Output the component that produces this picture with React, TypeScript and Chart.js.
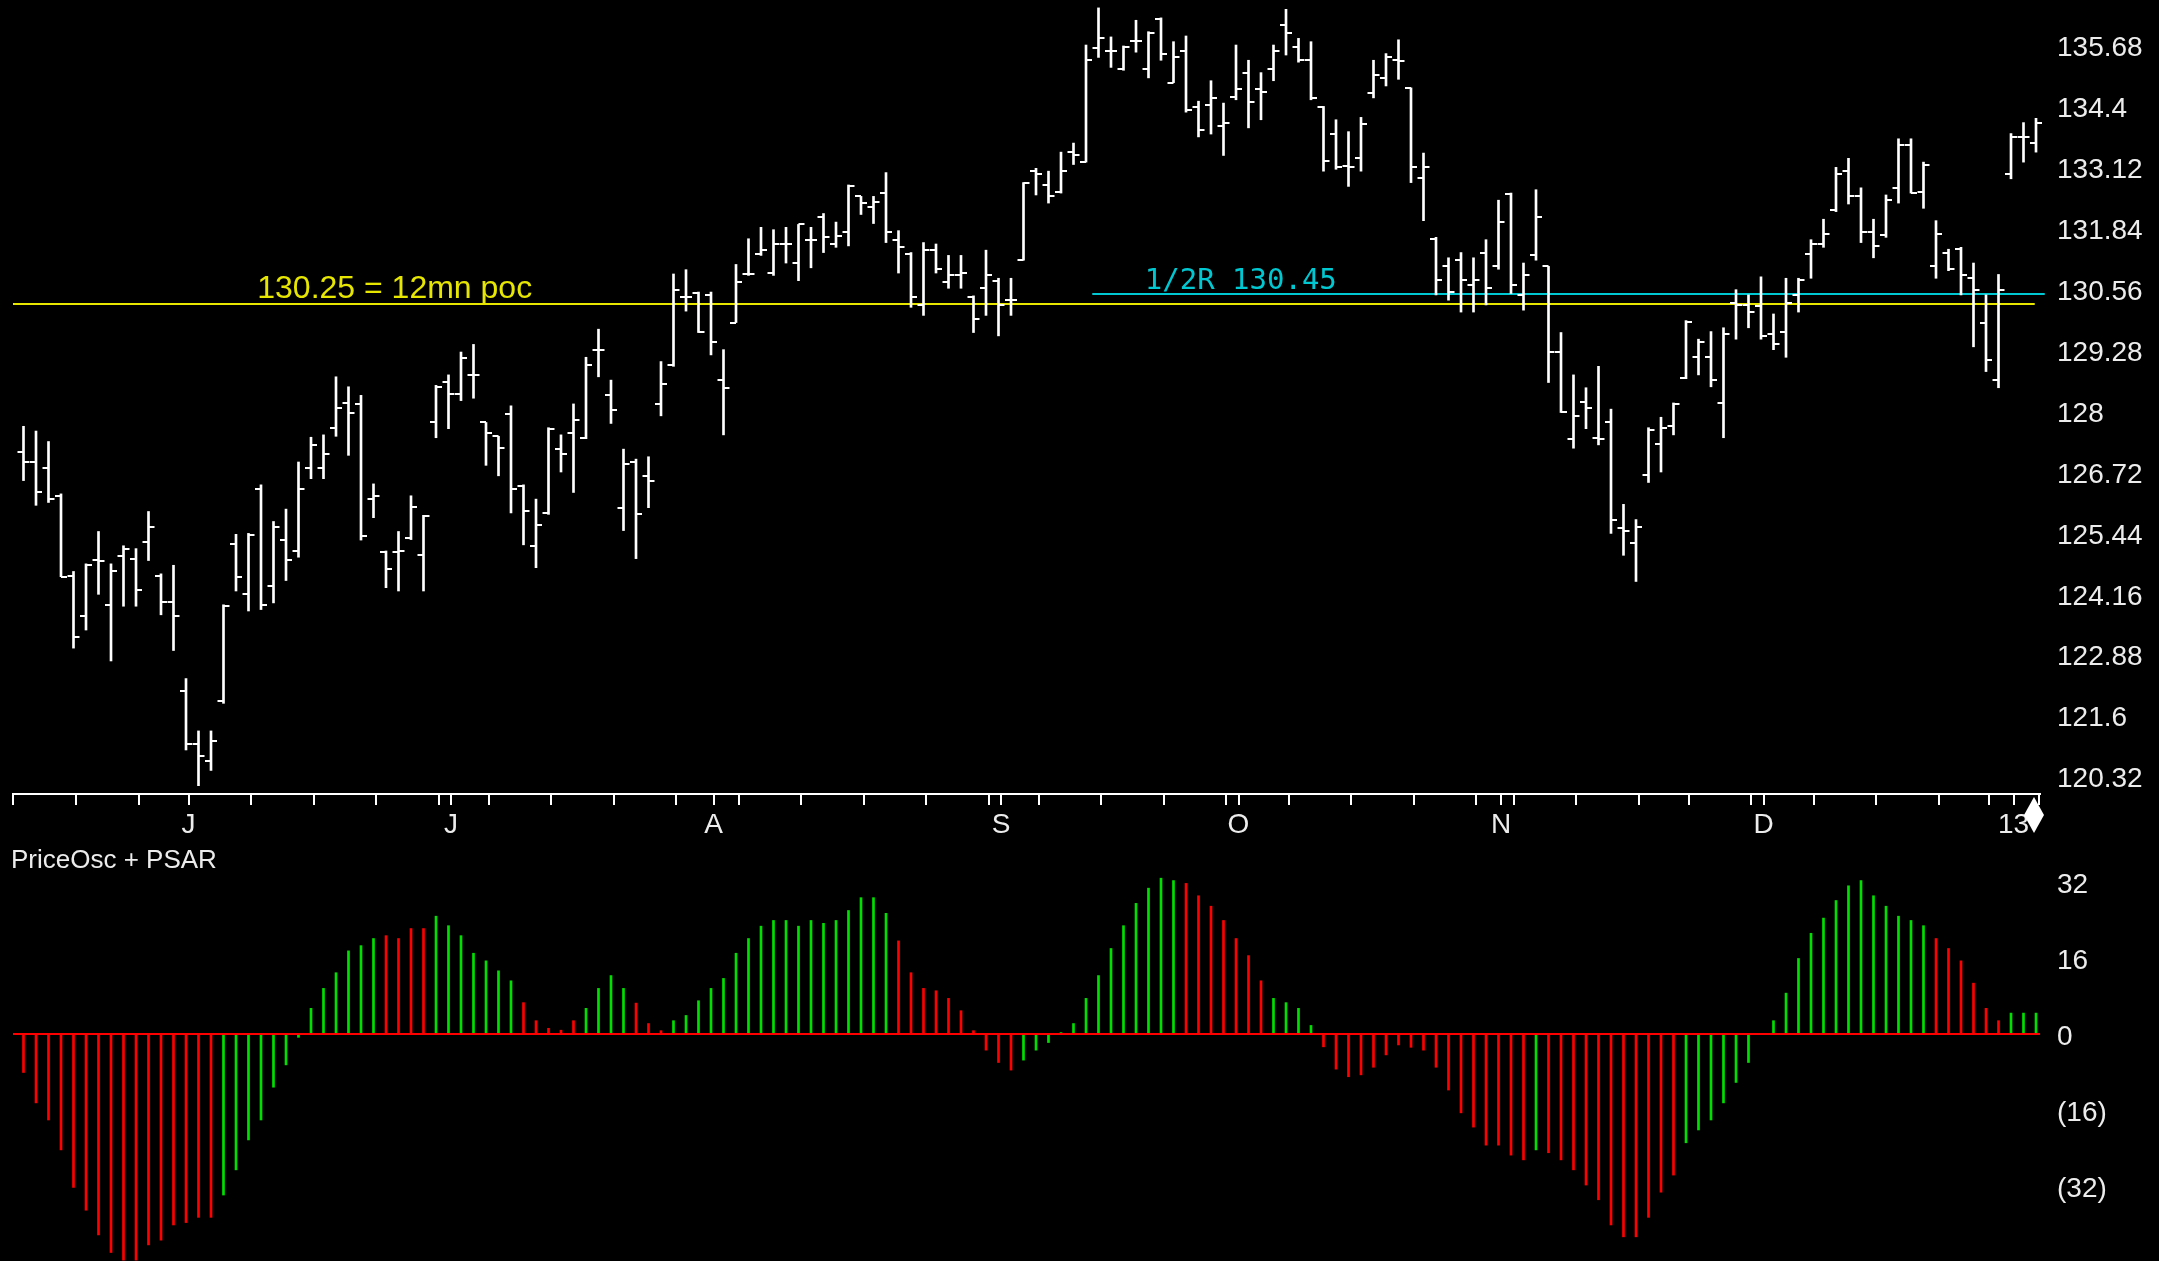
import React, { useEffect, useRef } from "react";
import { Chart, registerables } from "chart.js";

Chart.register(...registerables);

// ---------------- page geometry ----------------
const W = 2159;
const H = 1261;
const PRICE_H = 840;
const OSC_TOP = 840;
const OSC_H = H - OSC_TOP;

// ---------------- calendar (categories) ----------------
const START_DATE = "2012-05-14";
const HOLIDAYS = [
  "2012-05-28", "2012-07-04", "2012-09-03", "2012-10-29",
  "2012-10-30", "2012-11-22", "2012-12-25", "2013-01-01",
];
const MONTH_LETTERS = ["J", "F", "M", "A", "M", "J", "J", "A", "S", "O", "N", "D"];

// ---------------- price series (daily OHLC) ----------------
const opens = [
  127.15, 126.93, 126.80, 126.22, 124.54, 123.69, 124.87, 123.93, 124.95, 124.90,
  125.25, 124.54, 123.99, 122.11, 121.01, 120.64, 121.90, 125.20, 124.15, 126.37,
  124.33, 125.29, 125.06, 126.80, 126.80, 127.65, 128.17, 128.15, 126.15, 125.04,
  125.04, 125.33, 124.98, 127.76, 128.62, 128.35, 128.76, 127.76, 127.47, 127.93,
  126.43, 125.17, 125.86, 127.20, 127.54, 127.44, 129.29, 128.33, 125.97, 126.93,
  126.64, 128.14, 128.97, 130.40, 130.47, 130.44, 128.65, 129.86, 130.87, 131.30,
  130.90, 131.51, 131.11, 131.60, 132.08, 131.51, 131.76, 132.51, 132.29, 132.58,
  131.60, 131.30, 130.22, 131.38, 130.72, 130.85, 130.40, 130.58, 130.74, 130.33,
  131.17, 133.04, 132.75, 132.61, 133.44, 133.23, 135.62, 135.56, 135.19, 135.78,
  135.19, 136.23, 134.90, 135.56, 134.38, 134.44, 133.98, 134.60, 135.11, 134.76,
  135.19, 136.12, 135.65, 135.37, 134.38, 133.83, 133.15, 133.31, 134.68, 135.00,
  135.37, 134.79, 132.90, 131.62, 131.04, 131.17, 130.65, 131.33, 131.04, 132.56,
  130.44, 131.28, 131.04, 129.24, 127.42, 128.19, 127.44, 127.76, 125.54, 125.22,
  126.66, 127.31, 127.68, 128.70, 129.13, 129.13, 128.17, 130.26, 130.23, 130.20,
  129.62, 129.67, 130.44, 131.30, 131.51, 132.22, 133.04, 132.51, 131.76, 131.70,
  132.69, 133.58, 132.61, 131.04, 131.33, 131.40, 130.79, 129.86, 128.65, 132.99,
  133.76, 133.64,
];
const highs = [
  127.68, 127.58, 127.36, 126.26, 124.63, 124.79, 125.47, 124.79, 125.17, 125.11,
  125.89, 124.58, 124.76, 122.38, 121.28, 121.28, 123.93, 125.41, 125.43, 126.45,
  125.68, 125.94, 126.93, 127.45, 127.50, 128.72, 128.51, 128.33, 126.47, 125.06,
  125.47, 126.22, 125.81, 128.54, 128.76, 129.24, 129.40, 127.76, 127.47, 128.11,
  126.45, 126.15, 127.65, 127.50, 128.15, 129.13, 129.72, 128.65, 127.20, 126.99,
  127.04, 129.04, 130.88, 130.97, 130.50, 130.50, 129.29, 131.08, 131.62, 131.86,
  131.81, 131.86, 131.92, 131.86, 132.15, 131.97, 132.75, 132.51, 132.51, 133.01,
  131.79, 131.33, 131.54, 131.51, 131.27, 131.27, 130.42, 131.38, 130.79, 130.79,
  132.80, 133.10, 133.04, 133.44, 133.63, 135.69, 136.47, 135.86, 135.67, 136.21,
  135.97, 136.26, 135.76, 135.88, 134.51, 134.94, 134.47, 135.69, 135.37, 135.11,
  135.69, 136.44, 135.83, 135.76, 134.40, 134.12, 133.87, 134.17, 135.37, 135.51,
  135.80, 134.79, 133.42, 131.65, 131.22, 131.33, 131.22, 131.60, 132.43, 132.58,
  131.11, 132.65, 131.04, 129.65, 128.76, 128.49, 128.94, 128.04, 126.04, 125.72,
  127.65, 127.87, 128.17, 129.90, 129.51, 129.67, 129.75, 130.55, 130.44, 130.82,
  130.04, 130.79, 130.79, 131.60, 132.03, 133.12, 133.31, 132.69, 132.03, 132.54,
  133.72, 133.72, 133.23, 132.00, 131.40, 131.44, 131.11, 130.44, 130.87, 133.83,
  134.06, 134.15,
];
const lows = [
  126.54, 126.02, 126.08, 124.52, 123.02, 123.40, 124.15, 122.75, 123.90, 123.90,
  124.86, 123.72, 122.97, 120.88, 120.13, 120.45, 121.86, 124.22, 123.80, 123.83,
  123.97, 124.44, 124.93, 126.58, 126.58, 127.47, 127.07, 125.29, 125.76, 124.29,
  124.22, 125.30, 124.22, 127.44, 127.63, 128.22, 128.27, 126.86, 126.64, 125.86,
  125.19, 124.71, 125.83, 126.72, 126.29, 127.42, 128.72, 127.74, 125.49, 124.90,
  125.97, 127.90, 128.94, 130.10, 129.65, 129.18, 127.50, 129.86, 130.85, 131.27,
  130.85, 131.11, 130.74, 131.01, 131.33, 131.44, 131.47, 132.13, 131.94, 131.54,
  130.90, 130.18, 130.01, 130.90, 130.58, 130.58, 129.65, 130.01, 129.58, 130.01,
  131.17, 132.54, 132.37, 132.58, 133.18, 133.23, 135.43, 135.22, 135.16, 135.54,
  135.00, 135.37, 134.90, 134.28, 133.76, 133.82, 133.37, 134.54, 133.95, 134.12,
  134.94, 135.48, 135.33, 134.54, 133.04, 133.08, 132.72, 133.04, 134.58, 134.83,
  134.97, 132.80, 132.00, 130.44, 130.33, 130.08, 130.08, 130.23, 130.98, 130.47,
  130.12, 131.17, 128.60, 127.97, 127.22, 127.63, 127.29, 125.43, 124.97, 124.42,
  126.50, 126.72, 127.50, 128.68, 128.76, 128.51, 127.44, 129.51, 129.75, 129.51,
  129.29, 129.13, 130.08, 130.79, 131.44, 132.19, 132.35, 131.54, 131.22, 131.65,
  132.37, 132.58, 132.26, 130.79, 130.95, 130.44, 129.35, 128.83, 128.49, 132.88,
  133.23, 133.44,
];
const closes = [
  126.93, 126.31, 126.15, 124.52, 123.26, 124.77, 124.84, 124.65, 125.11, 124.24,
  125.57, 123.99, 123.69, 121.01, 120.75, 121.06, 123.90, 124.52, 125.40, 123.93,
  125.57, 124.87, 126.37, 127.29, 127.09, 128.06, 127.95, 125.38, 126.22, 124.68,
  125.06, 125.99, 125.79, 128.51, 128.35, 129.11, 128.76, 127.54, 127.22, 126.36,
  125.89, 125.60, 127.63, 127.09, 127.82, 128.97, 129.29, 128.03, 126.88, 125.83,
  126.53, 128.56, 130.55, 130.40, 129.67, 129.45, 128.49, 130.72, 130.87, 131.38,
  131.51, 131.51, 131.92, 131.60, 131.65, 131.68, 132.72, 132.37, 132.40, 131.76,
  131.44, 130.40, 131.38, 130.98, 130.85, 130.90, 129.93, 130.85, 130.23, 130.33,
  132.80, 132.97, 132.51, 133.04, 133.37, 135.37, 135.83, 135.56, 135.65, 135.78,
  135.94, 135.51, 135.43, 134.33, 133.90, 134.58, 134.06, 134.76, 134.49, 134.70,
  135.56, 135.94, 135.37, 134.58, 133.26, 133.12, 133.12, 134.04, 135.05, 135.43,
  135.35, 133.12, 133.12, 130.76, 130.50, 130.76, 130.76, 130.58, 131.97, 130.65,
  130.85, 132.08, 129.24, 127.97, 127.90, 128.06, 127.42, 125.72, 125.49, 125.57,
  127.61, 127.65, 128.15, 129.88, 129.45, 128.65, 129.61, 130.23, 130.08, 129.58,
  129.40, 130.26, 130.76, 131.51, 131.73, 132.99, 132.51, 131.76, 131.47, 132.43,
  133.58, 132.58, 133.18, 131.73, 130.98, 130.85, 130.55, 129.08, 130.55, 133.76,
  133.76, 134.06,
];

// ---------------- oscillator (PriceOsc) ----------------
const priceOsc = [
  -8.1, -14.5, -18.1, -24.4, -32.3, -37.1, -42.3, -46.0, -47.6, -47.6,
  -44.4, -43.4, -40.2, -39.7, -38.6, -38.6, -33.9, -28.6, -22.3, -18.1,
  -11.2, -6.5, -0.7, 5.4, 9.6, 12.9, 17.5, 18.6, 20.1, 20.7,
  20.1, 22.2, 22.2, 24.8, 22.8, 20.7, 17.0, 15.4, 13.3, 11.2,
  6.6, 2.8, 1.2, 0.8, 2.8, 5.4, 9.6, 12.3, 9.6, 6.5,
  2.2, 0.7, 2.8, 3.9, 7.0, 9.6, 11.7, 17.0, 20.1, 22.7,
  23.9, 23.9, 22.7, 23.9, 23.3, 23.9, 26.0, 28.7, 28.7, 25.4,
  19.6, 12.9, 9.6, 9.1, 7.5, 4.9, 0.7, -3.4, -6.0, -7.6,
  -5.5, -3.4, -1.8, 0.3, 2.2, 7.5, 12.3, 18.0, 22.8, 27.5,
  30.7, 32.8, 32.3, 31.7, 29.1, 26.9, 23.9, 20.1, 16.5, 11.2,
  7.5, 6.6, 5.4, 1.8, -2.7, -7.4, -9.0, -8.6, -7.0, -4.4,
  -2.3, -2.8, -3.4, -7.0, -11.8, -16.6, -19.6, -23.4, -23.4, -25.5,
  -26.5, -24.4, -25.0, -26.5, -28.6, -31.8, -34.9, -40.2, -42.7, -42.7,
  -38.6, -33.3, -29.7, -22.9, -20.2, -18.1, -14.5, -10.2, -6.0, 0.0,
  2.8, 8.6, 15.9, 21.2, 24.4, 28.1, 31.2, 32.3, 29.1, 26.9,
  24.8, 23.9, 22.8, 20.1, 18.0, 15.4, 10.7, 5.4, 2.8, 4.4,
  4.4, 4.4,
];
// PSAR state per bar: G = long (green), R = short (red)
const psarState = [
  "RRRRRRRRRRRRRRRR",
  "GGGGGGGGGGGGG",
  "RRRR",
  "GGGGGGG",
  "RRRRR",
  "GGGG",
  "RRR",
  "GGGGGGGGGGGGGGGGGG",
  "RRRRRRRRRR",
  "GGGGGGGGGGGGG",
  "RRRRRRR",
  "GGGG",
  "RRRRRRRRRRRRRRRRR",
  "G",
  "RRRRRRRRRRR",
  "GGGGGGGGGGGGGGGGGGGG",
  "RRRRRR",
  "GGG",
].join("");

// ---------------- tick labels ----------------
const priceTicks = [120.32, 121.6, 122.88, 124.16, 125.44, 126.72, 128, 129.28, 130.56, 131.84, 133.12, 134.4, 135.68];
const oscTicks = [32, 16, 0, -16, -32];

// ---------------- annotations ----------------
const POC_LEVEL = 130.25;
const POC_LABEL = "130.25 = 12mn poc";
const HALF_R_LEVEL = 130.45;
const HALF_R_LABEL = "1/2R 130.45";
const OSC_TITLE = "PriceOsc + PSAR";

// ---------------- styling / scale ranges ----------------
const X_MIN = -0.84;
const X_MAX = 161.32;
const P_MAX = 136.636;
const P_MIN = 119.955;
const O_MAX = 40.84;
const O_MIN = -47.79;
const TICK_SHIFT = 0.2;
const POC_FROM = -0.84, POC_TO = 160.9, POC_TEXT_AT = 18.7;
const HR_FROM = 85.5, HR_TO = 161.7, HR_TEXT_AT = 89.7;

const FONT = "'Liberation Sans', Arial, sans-serif";
const MONO = "'DejaVu Sans Mono', 'Liberation Mono', monospace";
const TEXT_COLOR = "#ececec";
const BAR_COLOR = "#ffffff";
const YELLOW = "#e6e600";
const CYAN = "#00c8d2";
const GREEN = "#00e000";
const RED = "#ff0000";

function tradingDays(n: number): Date[] {
  const out: Date[] = [];
  const d = new Date(START_DATE + "T12:00:00Z");
  while (out.length < n) {
    const iso = d.toISOString().slice(0, 10);
    const dow = d.getUTCDay();
    if (dow !== 0 && dow !== 6 && !HOLIDAYS.includes(iso)) out.push(new Date(d.getTime()));
    d.setUTCDate(d.getUTCDate() + 1);
  }
  return out;
}

function buildAxisTicks(dates: Date[]) {
  const map = new Map<number, { value: number; label: string }>();
  const put = (v: number, label: string) => {
    const key = Math.round(v * 100);
    const prev = map.get(key);
    if (!prev || label) map.set(key, { value: v, label: label || (prev ? prev.label : "") });
  };
  put(-1 + TICK_SHIFT, "");
  for (let i = 0; i < dates.length; i++) {
    const next = dates[i + 1];
    const weekEnd =
      !next ||
      next.getUTCDay() <= dates[i].getUTCDay() ||
      (next.getTime() - dates[i].getTime()) / 86400000 >= 7;
    if (weekEnd) put(i + TICK_SHIFT, "");
    if (i > 0 && dates[i].getUTCMonth() !== dates[i - 1].getUTCMonth()) {
      const m = dates[i].getUTCMonth();
      const label = m === 0 ? String(dates[i].getUTCFullYear() % 100).padStart(2, "0") : MONTH_LETTERS[m];
      put(i + TICK_SHIFT, label);
    }
  }
  return Array.from(map.values()).sort((a, b) => a.value - b.value);
}

export default function App() {
  const priceRef = useRef<HTMLCanvasElement>(null);
  const oscRef = useRef<HTMLCanvasElement>(null);

  useEffect(() => {
    if (!priceRef.current || !oscRef.current) return;
    const N = closes.length;
    const dates = tradingDays(N);
    const axisTicks = buildAxisTicks(dates);

    const pricePlugin = {
      id: "pricePlugin",
      beforeDatasetsDraw(chart: any) {
        const { ctx, scales } = chart;
        const x = scales.x, y = scales.y;
        const level = (lv: number, from: number, to: number, color: string) => {
          const py = Math.round(y.getPixelForValue(lv));
          ctx.save();
          ctx.strokeStyle = color;
          ctx.lineWidth = 2;
          ctx.beginPath();
          ctx.moveTo(Math.max(chart.chartArea.left, x.getPixelForValue(from)), py);
          ctx.lineTo(x.getPixelForValue(to), py);
          ctx.stroke();
          ctx.restore();
        };
        level(POC_LEVEL, POC_FROM, POC_TO, YELLOW);
        level(HALF_R_LEVEL, HR_FROM, HR_TO, CYAN);
      },
      afterDatasetsDraw(chart: any) {
        const { ctx, scales } = chart;
        const y = scales.y;
        const meta = chart.getDatasetMeta(0);
        ctx.save();
        ctx.strokeStyle = BAR_COLOR;
        ctx.lineWidth = 2;
        ctx.beginPath();
        meta.data.forEach((el: any, i: number) => {
          const bx = el.x;
          const yo = Math.round(y.getPixelForValue(opens[i]));
          const yc = Math.round(y.getPixelForValue(closes[i]));
          ctx.moveTo(bx - 6, yo);
          ctx.lineTo(bx, yo);
          ctx.moveTo(bx, yc);
          ctx.lineTo(bx + 6, yc);
        });
        ctx.stroke();
        ctx.restore();
      },
      afterDraw(chart: any) {
        const { ctx, scales, chartArea } = chart;
        const x = scales.x, y = scales.y;
        ctx.save();
        ctx.textBaseline = "alphabetic";
        ctx.textAlign = "left";
        ctx.fillStyle = YELLOW;
        ctx.font = `32px ${FONT}`;
        ctx.fillText(POC_LABEL, x.getPixelForValue(POC_TEXT_AT), Math.round(y.getPixelForValue(POC_LEVEL)) - 6);
        ctx.fillStyle = CYAN;
        ctx.font = `29px ${MONO}`;
        ctx.fillText(HALF_R_LABEL, x.getPixelForValue(HR_TEXT_AT), Math.round(y.getPixelForValue(HALF_R_LEVEL)) - 5);
        // end-of-data diamond marker on the time axis
        const cx = chartArea.right - 6;
        const top = chartArea.bottom + 3;
        ctx.fillStyle = "#ffffff";
        ctx.beginPath();
        ctx.moveTo(cx, top);
        ctx.lineTo(cx + 10, top + 18);
        ctx.lineTo(cx, top + 36);
        ctx.lineTo(cx - 10, top + 18);
        ctx.closePath();
        ctx.fill();
        ctx.restore();
      },
    };

    const oscPlugin = {
      id: "oscPlugin",
      afterDatasetsDraw(chart: any) {
        const { ctx, scales, chartArea } = chart;
        const py = Math.round(scales.y.getPixelForValue(0));
        ctx.save();
        ctx.strokeStyle = RED;
        ctx.lineWidth = 2;
        ctx.beginPath();
        ctx.moveTo(chartArea.left, py);
        ctx.lineTo(chartArea.right, py);
        ctx.stroke();
        ctx.restore();
      },
      afterDraw(chart: any) {
        const { ctx } = chart;
        ctx.save();
        ctx.fillStyle = TEXT_COLOR;
        ctx.font = `26px ${FONT}`;
        ctx.textBaseline = "alphabetic";
        ctx.textAlign = "left";
        ctx.fillText(OSC_TITLE, 11, 28);
        ctx.restore();
      },
    };

    const common = {
      animation: false,
      responsive: false,
      devicePixelRatio: 1,
      events: [],
      layout: { autoPadding: false, padding: { left: 13, right: 0, top: 0, bottom: 0 } },
      plugins: { legend: { display: false }, tooltip: { enabled: false }, title: { display: false } },
    };

    const rightAxis = (min: number, max: number, ticks: number[], fmt: (v: number) => string) => ({
      type: "linear",
      position: "right",
      min,
      max,
      afterBuildTicks: (s: any) => {
        s.ticks = ticks.map((v) => ({ value: v }));
      },
      afterFit: (s: any) => {
        s.width = 119;
        s.paddingTop = 0;
        s.paddingBottom = 0;
      },
      ticks: {
        padding: 17,
        labelOffset: 3,
        color: TEXT_COLOR,
        font: { family: FONT, size: 28 },
        callback: (v: any) => fmt(Number(v)),
      },
      grid: { display: false, drawTicks: false },
      border: { display: false },
    });

    const priceChart = new Chart(priceRef.current, {
      type: "bar",
      data: {
        datasets: [
          {
            data: highs.map((h, i) => ({ x: i, y: [lows[i], h] })),
            backgroundColor: BAR_COLOR,
            borderWidth: 0,
            barThickness: 2,
            clip: false,
          },
        ],
      },
      options: {
        ...common,
        scales: {
          x: {
            type: "linear",
            position: "bottom",
            min: X_MIN,
            max: X_MAX,
            offset: false,
            afterBuildTicks: (s: any) => {
              s.ticks = axisTicks.map((t) => ({ value: t.value }));
            },
            afterFit: (s: any) => {
              s.height = 46;
              s.paddingLeft = 0;
              s.paddingRight = 0;
            },
            ticks: {
              autoSkip: false,
              maxRotation: 0,
              minRotation: 0,
              padding: 3,
              color: TEXT_COLOR,
              font: { family: FONT, size: 28 },
              callback: (_v: any, i: number) => (axisTicks[i] ? axisTicks[i].label : ""),
            },
            grid: {
              display: true,
              offset: false,
              drawOnChartArea: false,
              drawTicks: true,
              tickLength: 11,
              color: "#ffffff",
              lineWidth: 2,
            },
            border: { display: true, color: "#ffffff", width: 2 },
          },
          y: rightAxis(P_MIN, P_MAX, priceTicks, (v) => String(v)),
        },
      } as any,
      plugins: [pricePlugin],
    } as any);

    const oscChart = new Chart(oscRef.current, {
      type: "bar",
      data: {
        datasets: [
          {
            data: priceOsc.map((v, i) => ({ x: i, y: v })),
            backgroundColor: priceOsc.map((_, i) => (psarState[i] === "G" ? GREEN : RED)),
            borderWidth: 0,
            barThickness: 2,
            clip: false,
          },
        ],
      },
      options: {
        ...common,
        scales: {
          x: {
            type: "linear",
            display: false,
            min: X_MIN,
            max: X_MAX,
            offset: false,
            grid: { offset: false },
          },
          y: rightAxis(O_MIN, O_MAX, oscTicks, (v) => (v < 0 ? `(${-v})` : String(v))),
        },
      } as any,
      plugins: [oscPlugin],
    } as any);

    return () => {
      priceChart.destroy();
      oscChart.destroy();
    };
  }, []);

  return (
    <div
      style={{
        position: "fixed",
        left: 0,
        top: 0,
        width: W,
        height: H,
        background: "#000",
        overflow: "hidden",
      }}
    >
      <canvas ref={priceRef} width={W} height={PRICE_H} style={{ position: "absolute", left: 0, top: 0 }} />
      <canvas ref={oscRef} width={W} height={OSC_H} style={{ position: "absolute", left: 0, top: OSC_TOP }} />
    </div>
  );
}
